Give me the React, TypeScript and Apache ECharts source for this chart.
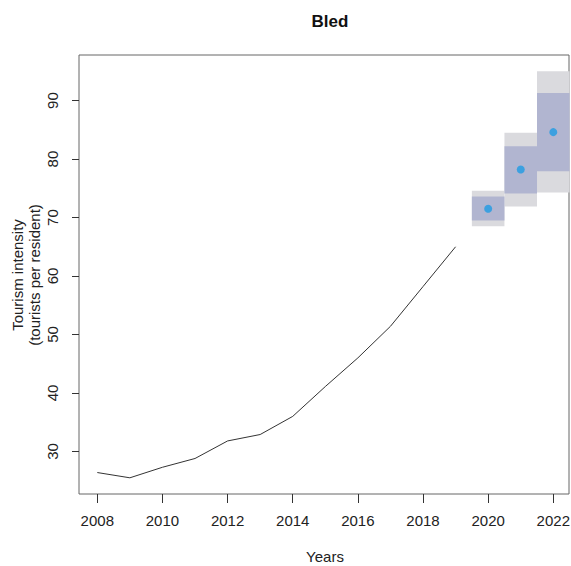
import React, { useEffect, useRef } from "react";
import * as echarts from "echarts";

const years = [2008, 2009, 2010, 2011, 2012, 2013, 2014, 2015, 2016, 2017, 2018, 2019];
const intensity = [26.4, 25.5, 27.3, 28.8, 31.8, 32.9, 36.0, 41.1, 46.0, 51.4, 58.2, 65.0];

const forecastYears = [2020, 2021, 2022];
const forecastMean = [71.5, 78.2, 84.6];
const lo80 = [69.5, 74.1, 77.9];
const hi80 = [73.6, 82.2, 91.3];
const lo95 = [68.5, 71.9, 74.3];
const hi95 = [74.6, 84.5, 95.0];

const xTicks = [2008, 2010, 2012, 2014, 2016, 2018, 2020, 2022];
const yTicks = [30, 40, 50, 60, 70, 80, 90];

const FONT = "'Liberation Sans', Arial, Helvetica, sans-serif";

export default function App() {
  const ref = useRef<HTMLDivElement>(null);
  useEffect(() => {
    document.body.style.margin = "0";
    const chart = echarts.init(ref.current!, null, { renderer: "svg" });
    const bandItem = (color: string) => (params: any, api: any) => {
      const x = api.value(0);
      const lo = api.value(1);
      const hi = api.value(2);
      const p1 = api.coord([x - 0.5, hi]);
      const p2 = api.coord([x + 0.5, lo]);
      return {
        type: "rect",
        shape: { x: p1[0], y: p1[1], width: p2[0] - p1[0], height: p2[1] - p1[1] },
        style: { fill: color },
      };
    };
    chart.setOption({
      animation: false,
      textStyle: { fontFamily: FONT },
      title: {
        text: "Bled",
        left: 325,
        textAlign: "center",
        top: 8,
        textStyle: { fontSize: 17, fontWeight: "bold", color: "#111", fontFamily: FONT },
      },
      grid: {
        left: 79,
        width: 490,
        top: 55,
        bottom: 72,
        containLabel: false,
        outerBoundsMode: "none",
        show: true,
        borderColor: "#666",
        borderWidth: 1,
        backgroundColor: "transparent",
      },
      xAxis: {
        type: "value",
        min: 2007.438,
        max: 2022.482,
        axisLine: { show: false },
        splitLine: { show: false },
        axisTick: { show: true, length: 9, lineStyle: { color: "#333" }, customValues: xTicks },
        axisLabel: {
          customValues: xTicks,
          formatter: (v: number) => String(v),
          fontSize: 15,
          color: "#222",
          margin: 19,
          fontFamily: FONT,
          hideOverlap: false,
        },
      },
      yAxis: {
        type: "value",
        min: 22.73,
        max: 97.79,
        axisLine: { show: false },
        splitLine: { show: false },
        axisTick: { show: true, length: 7, lineStyle: { color: "#333" }, customValues: yTicks },
        axisLabel: { customValues: yTicks, fontSize: 15, color: "#222", margin: 19, rotate: 90, fontFamily: FONT },
      },
      graphic: [
        {
          type: "text",
          x: 17,
          y: 275,
          rotation: Math.PI / 2,
          style: { text: "Tourism intensity", font: `15px ${FONT}`, fill: "#222", textAlign: "center", textVerticalAlign: "middle" },
        },
        {
          type: "text",
          x: 34,
          y: 275,
          rotation: Math.PI / 2,
          style: { text: "(tourists per resident)", font: `15px ${FONT}`, fill: "#222", textAlign: "center", textVerticalAlign: "middle" },
        },
        {
          type: "text",
          x: 325,
          y: 556,
          style: { text: "Years", font: `15px ${FONT}`, fill: "#222", textAlign: "center", textVerticalAlign: "middle" },
        },
      ],
      series: [
        {
          type: "line",
          data: years.map((y, i) => [y, intensity[i]]),
          showSymbol: false,
          symbol: "none",
          lineStyle: { color: "#333", width: 1 },
          z: 2,
        },
        {
          type: "custom",
          renderItem: bandItem("#dadade"),
          data: forecastYears.map((y, i) => [y, lo95[i], hi95[i]]),
          z: 1,
        },
        {
          type: "custom",
          renderItem: bandItem("#b1b5d0"),
          data: forecastYears.map((y, i) => [y, lo80[i], hi80[i]]),
          z: 2,
        },
        {
          type: "scatter",
          data: forecastYears.map((y, i) => [y, forecastMean[i]]),
          symbolSize: 8,
          itemStyle: { color: "#1f9be3" },
          z: 3,
        },
      ],
    });
    return () => chart.dispose();
  }, []);
  return <div ref={ref} style={{ width: 571, height: 566 }} />;
}
